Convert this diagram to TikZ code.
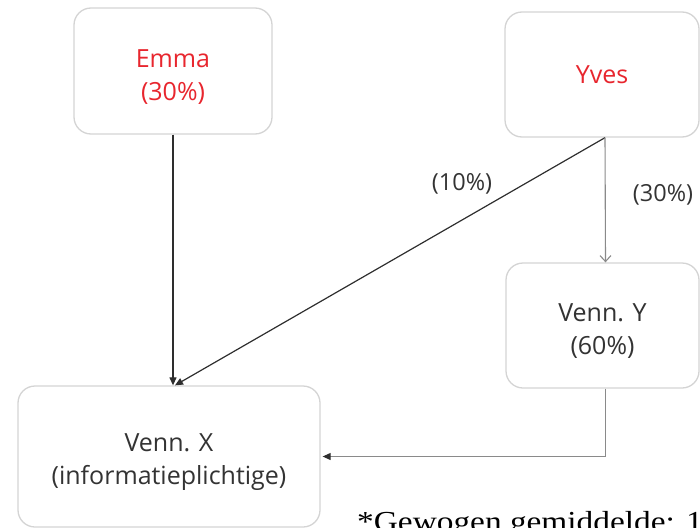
\documentclass[tikz,border=0pt]{standalone}
\usepackage{fontspec}
\setmainfont{Open Sans}
\newfontfamily\notefont[FakeStretch=1.15]{Liberation Serif}
\usetikzlibrary{arrows.meta,positioning,calc}
\definecolor{boxline}{HTML}{D4D4D4}
\definecolor{redtext}{HTML}{E8262E}
\definecolor{darktext}{HTML}{333333}
\definecolor{grayline}{HTML}{8A8A8A}
\definecolor{darkline}{HTML}{2E2E2E}
\newcommand\lowerstrut{\rule{0pt}{29pt}}
\tikzset{
  box/.style={draw=boxline, line width=1.3pt, rounded corners=17pt, fill=white,
    align=center, inner sep=0pt, font=\fontsize{25}{33}\selectfont, text=darktext},
  redbox/.style={box, text=redtext},
  darkarrow/.style={draw=darkline, line width=1.2pt, -{Triangle[length=8pt,width=7pt]}},
  grayarrow/.style={draw=grayline, line width=1.1pt},
  pct/.style={font=\fontsize{23.5}{24}\selectfont, text=darktext, inner sep=0pt}
}
\begin{document}
\begin{tikzpicture}[x=1pt,y=-1pt]
\useasboundingbox (0,0) rectangle (700,527);
\clip (0,0) rectangle (700,527);
\node[redbox, minimum width=198pt, minimum height=126pt] (emma) at (173,71) {\lowerstrut Emma\\(30\%)};
\node[redbox, minimum width=194pt, minimum height=125pt] (yves) at (602,74.5) {Yves};
\node[box, minimum width=193pt, minimum height=125pt] (venny) at (602.5,325.5) {\lowerstrut Venn. Y\\(60\%)};
\node[box, minimum width=302pt, minimum height=141pt] (vennx) at (169,456.5) {\lowerstrut Venn. X\\(informatieplichtige)};
\node[pct] (p10) at (462,184) {(10\%)};
\node[pct] (p30) at (663,195) {(30\%)};
\draw[darkarrow] (emma.south) -- (emma.south |- vennx.north);
\draw[darkarrow] ([xshift=3pt]yves.south) -- ([xshift=6pt]vennx.north);
\draw[grayarrow, -{Straight Barb[length=6pt,width=11pt]}] ([xshift=3pt]yves.south) -- ([xshift=3pt]venny.north);
\draw[grayarrow, -{Triangle[color=darkline,length=8pt,width=7pt]}] ([xshift=3pt]venny.south) |- ([xshift=2pt]vennx.east);
\node[anchor=base west, inner sep=0pt, font=\notefont\fontsize{29}{34}\selectfont] (note) at (357,531) {*Gewogen gemiddelde: 1};
\end{tikzpicture}
\end{document}
